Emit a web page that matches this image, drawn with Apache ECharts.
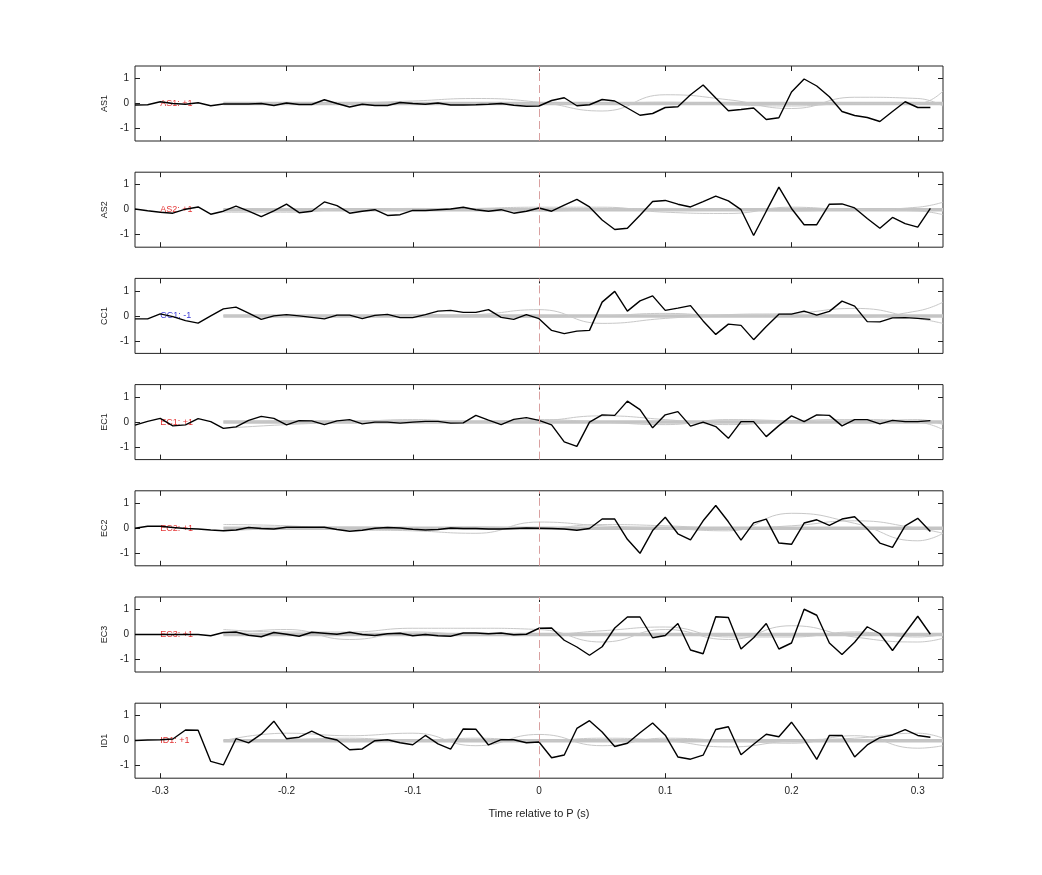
<!DOCTYPE html>
<html><head><meta charset="utf-8">
<script src="https://cdn.jsdelivr.net/npm/echarts@6/dist/echarts.min.js"></script>
<style>html,body{margin:0;padding:0;background:#fff}#c{width:1042px;height:875px}</style>
</head><body><div id="c"></div>
<script>
const channels = ['AS1','AS2','CC1','EC1','EC2','EC3','ID1'];
const labels = ['AS1: +1','AS2: +1','CC1: -1','EC1: +1','EC2: +1','EC3: +1','ID1: +1'];
const labelColors = ['#d00','#d00','#00c','#d00','#d00','#d00','#d00'];
const xTicks = [-0.3,-0.2,-0.1,0,0.1,0.2,0.3];
const t0 = -0.32, dt = 0.01;
const AS1 = [-0.06,-0.05,0.07,0,-0.03,0.03,-0.09,-0.02,-0.02,-0.02,0,-0.08,0.02,-0.04,-0.04,0.15,0,-0.14,-0.03,-0.08,-0.08,0.04,0,-0.03,0.02,-0.06,-0.06,-0.05,-0.03,0,-0.07,-0.11,-0.1,0.12,0.23,-0.09,-0.05,0.16,0.1,-0.18,-0.47,-0.4,-0.16,-0.13,0.35,0.74,0.22,-0.29,-0.24,-0.18,-0.64,-0.57,0.46,0.98,0.7,0.27,-0.32,-0.48,-0.56,-0.72,-0.32,0.07,-0.16,-0.16];
const AS2 = [0.03,-0.04,-0.1,-0.14,0.02,0.11,-0.18,-0.06,0.14,-0.06,-0.28,-0.05,0.22,-0.12,-0.06,0.31,0.16,-0.14,-0.06,0,-0.23,-0.2,-0.03,-0.03,0,0.03,0.1,0,-0.06,0,-0.14,-0.06,0.07,-0.06,0.18,0.41,0.11,-0.41,-0.79,-0.74,-0.22,0.33,0.37,0.22,0.11,0.32,0.54,0.35,0,-1.03,-0.06,0.9,0.05,-0.6,-0.6,0.22,0.23,0.07,-0.35,-0.74,-0.31,-0.56,-0.7,0.05];
const CC1 = [-0.12,-0.12,0.08,-0.03,-0.19,-0.29,0,0.28,0.35,0.11,-0.14,0,0.05,0,-0.06,-0.12,0.03,0.03,-0.11,0.02,0.06,-0.07,-0.07,0.05,0.19,0.22,0.14,0.14,0.25,-0.06,-0.14,0.05,-0.11,-0.58,-0.71,-0.61,-0.58,0.55,0.98,0.19,0.6,0.8,0.22,0.31,0.41,-0.2,-0.74,-0.33,-0.38,-0.95,-0.42,0.07,0.07,0.19,0.03,0.18,0.59,0.39,-0.23,-0.24,-0.08,-0.07,-0.1,-0.14];
const EC1 = [-0.12,0.03,0.15,-0.15,-0.11,0.14,0.02,-0.25,-0.19,0.07,0.23,0.15,-0.11,0.06,0.05,-0.1,0.05,0.1,-0.07,0,0,-0.04,0,0.03,0.03,-0.04,-0.03,0.27,0.08,-0.1,0.11,0.18,0.07,-0.11,-0.79,-0.97,0,0.29,0.27,0.84,0.5,-0.23,0.29,0.42,-0.16,0,-0.18,-0.65,0.02,0.02,-0.58,-0.14,0.25,0.02,0.29,0.27,-0.15,0.1,0.1,-0.07,0.07,0.02,0.02,0.06];
const EC2 = [0,0.08,0.08,0.03,-0.01,-0.03,-0.07,-0.1,-0.07,0.03,-0.01,-0.03,0.04,0.04,0.04,0.04,-0.05,-0.12,-0.08,0,0.03,0.01,-0.04,-0.07,-0.05,0.01,-0.01,-0.01,-0.03,-0.03,-0.01,0.01,0,-0.01,-0.03,-0.08,-0.01,0.37,0.37,-0.44,-1.0,-0.09,0.44,-0.22,-0.46,0.3,0.91,0.26,-0.47,0.22,0.37,-0.59,-0.64,0.21,0.34,0.12,0.37,0.46,-0.03,-0.59,-0.76,0.1,0.4,-0.13];
const EC3 = [0,0,0,0,0,0,-0.05,0.08,0.1,-0.03,-0.09,0.08,0.01,-0.07,0.09,0.05,0.01,0.09,0,-0.04,0.03,0.05,-0.05,0,-0.05,-0.07,0.06,0.06,0.03,0.06,-0.01,0.01,0.25,0.26,-0.23,-0.5,-0.83,-0.49,0.26,0.7,0.7,-0.13,-0.04,0.44,-0.62,-0.77,0.71,0.68,-0.58,-0.13,0.44,-0.58,-0.34,1.01,0.77,-0.34,-0.8,-0.31,0.31,0.03,-0.64,0.05,0.73,0.01];
const ID1 = [0.01,0.03,0.04,0.07,0.43,0.42,-0.83,-0.97,0.08,-0.09,0.26,0.78,0.08,0.14,0.38,0.14,0.03,-0.36,-0.33,0,0.04,-0.08,-0.16,0.21,-0.13,-0.34,0.47,0.46,-0.17,0.04,0.04,-0.08,-0.05,-0.68,-0.57,0.49,0.8,0.35,-0.23,-0.1,0.32,0.71,0.22,-0.65,-0.74,-0.58,0.45,0.56,-0.56,-0.14,0.26,0.16,0.74,0.05,-0.75,0.21,0.21,-0.65,-0.17,0.12,0.23,0.44,0.21,0.14];
const blackSeries = [AS1,AS2,CC1,EC1,EC2,EC3,ID1];
const grayX = [-0.25,-0.2,-0.15,-0.1,-0.05,0,0.05,0.1,0.15,0.2,0.25,0.3,0.32];
const grayA = [
 [0,0,0.02,0.1,0.2,0.05,-0.3,0.35,0.15,-0.2,0.25,0.2,-0.1],
 [-0.1,-0.1,0,0,0.05,0.1,0.1,-0.1,-0.15,0.1,0,0.1,0.3],
 [0,0,0,0,0.05,0.25,-0.3,-0.1,0.05,0.1,0.3,-0.1,-0.3],
 [-0.25,-0.1,0,0.1,0,0.05,0.25,0.1,-0.1,0.05,0.1,0,-0.3],
 [0.15,0.1,-0.05,-0.1,-0.2,0.25,0.1,0,-0.1,0.6,0.2,-0.5,-0.2],
 [0.2,0.1,0.1,0.25,0.25,0.2,-0.3,0.2,-0.2,0.35,-0.1,-0.3,-0.15],
 [0,0.3,0.2,0.3,-0.2,0.25,-0.2,0.1,0,-0.1,0.2,-0.3,-0.2]];
const grayB = [
 [0,0,0,0,0,0,0,0.05,-0.05,-0.1,0,0,0.5],
 [0,0.05,0,0.05,0,-0.05,0,0.05,0,-0.05,0,-0.05,-0.2],
 [0,0,0,0.05,0,-0.05,0,0.1,0,0,-0.05,0.2,0.55],
 [0,0.05,0,0,0,0.1,0,-0.1,0.1,0.05,0,0.1,-0.1],
 [-0.1,0,0.05,0,0.05,0,0.15,0.1,0,0.1,0.3,0,-0.2],
 [0,0.2,-0.2,0.1,0,0,0.15,0.3,-0.1,-0.1,0.1,-0.1,0],
 [0,0.05,0.1,0,0.1,0,0.1,0,-0.25,0,0.1,0.3,0.1]];

const grids=[],xAxes=[],yAxes=[],series=[];
const top0=66, step=106.2, h=75;
const FONT='Liberation Sans';
channels.forEach((ch,i)=>{
  grids.push({left:135,right:99,top:top0+i*step,height:h,show:true,borderColor:'#222',borderWidth:1,backgroundColor:'#fff'});
  const last = i===channels.length-1;
  const tick = {show:true,inside:true,length:5,lineStyle:{color:'#222'}};
  xAxes.push({type:'value',gridIndex:i,position:'bottom',min:-0.32,max:0.32,axisLine:{show:false,onZero:false},splitLine:{show:false},
    axisTick:Object.assign({customValues:xTicks},tick),
    axisLabel:{show:last,customValues:xTicks,color:'#222',fontSize:10,fontFamily:FONT,margin:8,formatter:v=>String(Math.round(v*10)/10)},
    name:last?'Time relative to P (s)':'',nameLocation:'middle',nameGap:30,nameTextStyle:{color:'#222',fontSize:11,fontFamily:FONT}});
  xAxes.push({type:'value',gridIndex:i,position:'top',min:-0.32,max:0.32,axisLine:{show:false,onZero:false},splitLine:{show:false},
    axisTick:Object.assign({customValues:xTicks},tick),axisLabel:{show:false}});
  yAxes.push({type:'value',gridIndex:i,position:'left',min:-1.5,max:1.5,axisLine:{show:false,onZero:false},splitLine:{show:false},
    axisTick:Object.assign({customValues:[-1,0,1]},tick),
    axisLabel:{customValues:[-1,0,1],color:'#222',fontSize:10,fontFamily:FONT,margin:6},
    name:ch,nameLocation:'middle',nameGap:26,nameRotate:90,nameTextStyle:{color:'#222',fontSize:9,fontFamily:FONT}});
  yAxes.push({type:'value',gridIndex:i,position:'right',min:-1.5,max:1.5,axisLine:{show:false,onZero:false},splitLine:{show:false},
    axisTick:Object.assign({customValues:[-1,0,1]},tick),axisLabel:{show:false}});
  const xi=2*i, yi=2*i;
  series.push({type:'line',xAxisIndex:xi,yAxisIndex:yi,data:[[-0.25,0],[0.32,0]],symbol:'none',silent:true,
    lineStyle:{color:'#c4c4c4',width:3.5}});
  [grayA[i],grayB[i]].forEach(g=>series.push({type:'line',xAxisIndex:xi,yAxisIndex:yi,smooth:true,symbol:'none',
    data:grayX.map((x,k)=>[x,g[k]]),lineStyle:{color:'#c8c8c8',width:1}}));
  series.push({type:'line',xAxisIndex:xi,yAxisIndex:yi,symbol:'none',
    data:blackSeries[i].map((v,k)=>[t0+k*dt,v]),lineStyle:{color:'#000',width:1.4},
    markLine:{symbol:'none',silent:true,label:{show:false},lineStyle:{color:'#d9a0a0',type:[8,4],width:1},data:[{xAxis:0}]}});
  series.push({type:'scatter',xAxisIndex:xi,yAxisIndex:yi,symbolSize:0,data:[[-0.3,0]],
    label:{show:true,position:'inside',align:'left',formatter:labels[i],color:labelColors[i],fontSize:9,fontFamily:FONT}});
});
const chart=echarts.init(document.getElementById('c'));
chart.setOption({animation:false,backgroundColor:'#fff',grid:grids,xAxis:xAxes,yAxis:yAxes,series});
</script></body></html>
